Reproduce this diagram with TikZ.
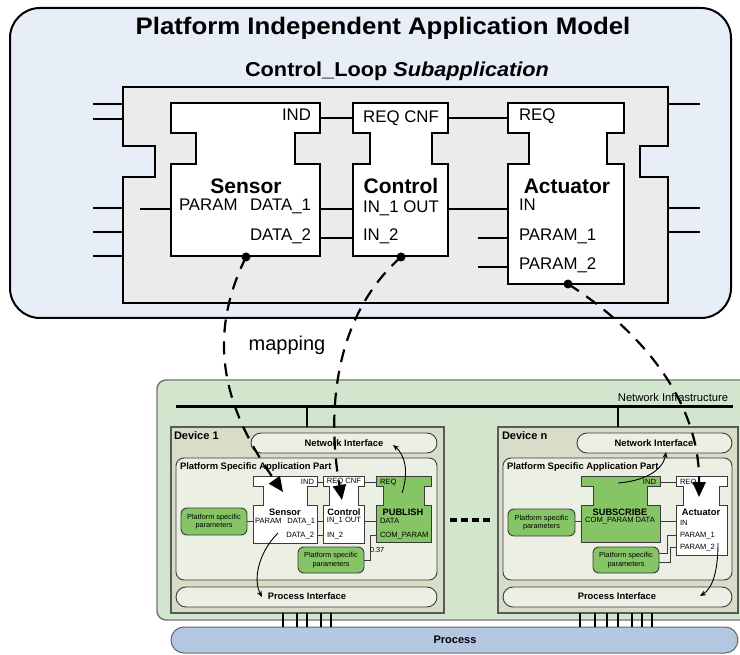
\documentclass[tikz,border=0pt]{standalone}
\usepackage{fontspec}
\setmainfont{Liberation Sans}
\newfontfamily\widesans[FakeStretch=1.08]{Liberation Sans}
\usetikzlibrary{arrows.meta}
\definecolor{pimbg}{HTML}{E7EEF7}
\definecolor{subgray}{HTML}{EBEBEB}
\definecolor{netgreen}{HTML}{D1E6CD}
\definecolor{devfill}{HTML}{D7DDC7}
\definecolor{lightbox}{HTML}{ECEFE4}
\definecolor{fbgreen}{HTML}{86C566}
\definecolor{procblue}{HTML}{B4C7E1}
\definecolor{edgegray}{HTML}{3A3A3A}
\newcommand\fbshape[9]{%
  \draw[#1] (#2,#6) -- (#3,#6) -- (#3,#7) -- (#5,#7) -- (#5,#8) -- (#3,#8) -- (#3,#9)
    -- (#2,#9) -- (#2,#8) -- (#4,#8) -- (#4,#7) -- (#2,#7) -- cycle;}
\tikzset{
  fbtop/.style={draw=black, line width=1.6pt, fill=white},
  fbwhite/.style={draw=edgegray, line width=0.9pt, fill=white},
  fbgrn/.style={draw=edgegray, line width=0.9pt, fill=fbgreen},
  wire/.style={line width=1.5pt, black},
  swire/.style={line width=0.8pt, edgegray},
  stub/.style={line width=2pt, black},
  txt/.style={inner sep=0pt, outer sep=0pt},
  ttl/.style={txt, font=\widesans\fontsize{23.9}{28}\selectfont\bfseries},
  subttl/.style={txt, font=\widesans\fontsize{20.1}{24}\selectfont\bfseries},
  bigname/.style={txt, font=\fontsize{21}{25}\selectfont\bfseries},
  bigport/.style={txt, font=\fontsize{16.8}{20}\selectfont},
  smname/.style={txt, font=\fontsize{9.3}{11}\selectfont\bfseries},
  smport/.style={txt, font=\fontsize{7.6}{9}\selectfont},
  boxlbl/.style={txt, font=\fontsize{9.4}{11}\selectfont\bfseries},
  paramtxt/.style={txt, font=\fontsize{7.3}{8.6}\selectfont, align=center},
  parambox/.style={draw=edgegray, line width=0.9pt, fill=fbgreen, rounded corners=6pt},
  roundbox/.style={draw=edgegray, line width=0.9pt, fill=lightbox, rounded corners=10pt},
  devbox/.style={draw=black!65, line width=1.6pt, fill=devfill},
  mapline/.style={line width=2.2pt, dash pattern=on 13pt off 9pt, -{Triangle[length=15pt,width=13pt]}},
  thinarrow/.style={line width=0.9pt, black, -{Stealth[length=6pt,width=5pt]}},
  portdot/.style={circle, fill=black, inner sep=0pt, minimum size=9pt}
}
\begin{document}
\begin{tikzpicture}[x=1pt, y=-1pt]
\useasboundingbox (0,0) rectangle (740,655);
\clip (0,0) rectangle (740,655);
\fill[white] (0,0) rectangle (740,655);

% ---------- Platform independent model ----------
\draw[line width=2pt, fill=pimbg, rounded corners=30pt] (10,8) rectangle (731,318);
\node[ttl] (title) at (383,28) {Platform Independent Application Model};
\node[subttl] (subtitle) at (397,71) {Control\_Loop \textit{Subapplication}};

\draw[line width=2pt, fill=subgray] (123,87) -- (668,87) -- (668,146) -- (640,146) -- (640,177) -- (668,177)
  -- (668,303) -- (123,303) -- (123,177) -- (155,177) -- (155,146) -- (123,146) -- cycle;
\foreach \yy in {104,119,208,232,256} { \draw[stub] (93,\yy) -- (123,\yy); }
\foreach \yy in {104,208,232} { \draw[stub] (668,\yy) -- (700,\yy); }

\fbshape{fbtop}{171}{320}{196}{295}{103}{133}{164}{256}
\fbshape{fbtop}{353}{448}{370}{432}{103}{133}{164}{256}
\fbshape{fbtop}{508}{624}{529}{607}{103}{133}{164}{284}

% Sensor
\node[bigport, anchor=mid east] (sInd) at (311,118) {IND};
\node[bigname] (sName) at (246,186) {Sensor};
\node[bigport, anchor=mid west] (sParam) at (179,208) {PARAM};
\node[bigport, anchor=mid east] (sD1) at (311,208) {DATA\_1};
\node[bigport, anchor=mid east] (sD2) at (311,238) {DATA\_2};
% Control
\node[bigport] (cEv) at (401,118) {REQ CNF};
\node[bigname] (cName) at (401,186) {Control};
\node[bigport] (cIn1) at (401,208) {IN\_1 OUT};
\node[bigport, anchor=mid west] (cIn2) at (363,238) {IN\_2};
% Actuator
\node[bigport, anchor=mid west] (aReq) at (519,118) {REQ};
\node[bigname] (aName) at (567,186) {Actuator};
\node[bigport, anchor=mid west] (aIn) at (519,208) {IN};
\node[bigport, anchor=mid west] (aP1) at (519,238) {PARAM\_1};
\node[bigport, anchor=mid west] (aP2) at (519,267) {PARAM\_2};

\coordinate (sIndP) at (320,118); \coordinate (cReqP) at (353,118);
\coordinate (cCnfP) at (448,118); \coordinate (aReqP) at (508,118);
\coordinate (sD1P) at (320,209); \coordinate (cIn1P) at (353,209);
\coordinate (cOutP) at (448,209); \coordinate (aInP) at (508,209);
\coordinate (sD2P) at (320,238); \coordinate (cIn2P) at (353,238);
\coordinate (sParP) at (171,209); \coordinate (sParE) at (140,209);
\coordinate (aP1P) at (508,238); \coordinate (aP1E) at (478,238);
\coordinate (aP2P) at (508,267); \coordinate (aP2E) at (478,267);
\draw[wire] (sIndP) -- (cReqP);
\draw[wire] (cCnfP) -- (aReqP);
\draw[wire] (sD1P) -- (cIn1P);
\draw[wire] (cOutP) -- (aInP);
\draw[wire] (sD2P) -- (cIn2P);
\draw[wire] (sParE) -- (sParP);
\draw[wire] (aP1E) -- (aP1P);
\draw[wire] (aP2E) -- (aP2P);

\node[portdot] (dotS) at (246,257) {};
\node[portdot] (dotC) at (401,257) {};
\node[portdot] (dotA) at (568,284) {};

\node[txt, font=\fontsize{20}{24}\selectfont] (mapping) at (287,345) {mapping};

% ---------- Network / devices ----------
\draw[draw=black!55, line width=1.4pt, fill=netgreen, rounded corners=9pt] (157,380) rectangle (760,620);
\node[txt, font=\fontsize{11.2}{13}\selectfont] (netinf) at (673,397) {Network Infrastructure};
\coordinate (busL) at (176,407); \coordinate (busR) at (733,407);
\draw[line width=3pt] (busL) -- (busR);

\draw[devbox] (171,427) rectangle (444,613);
\draw[devbox] (498,427) rectangle (738,613);
\coordinate (drop1) at (307,407); \coordinate (drop1b) at (307,427);
\coordinate (dropn) at (618,407); \coordinate (dropnb) at (618,427);
\draw[line width=2.5pt] (drop1) -- (drop1b);
\draw[line width=2.5pt] (dropn) -- (dropnb);

\node[txt, anchor=mid west, font=\fontsize{11}{13}\selectfont\bfseries] (dev1) at (174,437) {Device 1};
\node[txt, anchor=mid west, font=\fontsize{11}{13}\selectfont\bfseries] (devn) at (502,437) {Device n};

% device 1 boxes
\draw[roundbox] (251,433) rectangle (437,453);
\node[boxlbl] (ni1) at (344,443) {Network Interface};
\draw[roundbox, rounded corners=8pt] (176,458) rectangle (437,580);
\node[boxlbl, anchor=mid west] (psap1) at (180,467) {Platform Specific Application Part};
\draw[roundbox] (176,587) rectangle (437,607);
\node[boxlbl] (pi1) at (307,596) {Process Interface};

% device n boxes
\draw[roundbox] (577,433) rectangle (732,453);
\node[boxlbl] (nin) at (654,443) {Network Interface};
\draw[roundbox, rounded corners=8pt] (503,458) rectangle (732,580);
\node[boxlbl, anchor=mid west] (psapn) at (507,467) {Platform Specific Application Part};
\draw[roundbox] (503,587) rectangle (732,607);
\node[boxlbl] (pin) at (617,596) {Process Interface};

% device 1 FBs
\fbshape{fbwhite}{253}{317}{263}{307}{476}{486}{505}{543}
\fbshape{fbwhite}{323}{364}{329}{358}{476}{486}{505}{543}
\fbshape{fbgrn}{376}{431}{383}{424}{476}{486}{505}{542}
\node[smport, anchor=mid east] (s1Ind) at (314,482) {IND};
\node[smname] (s1Name) at (285,512) {Sensor};
\node[smport, anchor=mid west] (s1Par) at (255,521) {PARAM};
\node[smport, anchor=mid east] (s1D1) at (315,521) {DATA\_1};
\node[smport, anchor=mid east] (s1D2) at (314,535) {DATA\_2};
\node[smport] (c1Ev) at (344,482) {REQ CNF};
\node[smname] (c1Name) at (344,512) {Control};
\node[smport] (c1In1) at (344,521) {IN\_1 OUT};
\node[smport, anchor=mid west] (c1In2) at (327,535) {IN\_2};
\node[smport, anchor=mid west] (p1Req) at (380,482) {REQ};
\node[smname] (p1Name) at (403,512) {PUBLISH};
\node[smport, anchor=mid west] (p1Data) at (380,521) {DATA};
\node[smport, anchor=mid west] (p1Com) at (380,535) {COM\_PARAM};

\coordinate (s1IndP) at (317,482); \coordinate (c1ReqP) at (323,482);
\coordinate (c1CnfP) at (364,482); \coordinate (p1ReqP) at (376,482);
\coordinate (s1D1P) at (317,521); \coordinate (c1In1P) at (323,521);
\coordinate (s1D2P) at (317,535); \coordinate (c1In2P) at (323,535);
\coordinate (c1OutP) at (364,521); \coordinate (p1DataP) at (376,521);
\coordinate (p1ComP) at (376,535); \coordinate (s1ParP) at (253,521);
\draw[swire] (s1IndP) -- (c1ReqP);
\draw[swire] (c1CnfP) -- (p1ReqP);
\draw[swire] (s1D1P) -- (c1In1P);
\draw[swire] (s1D2P) -- (c1In2P);
\draw[swire] (c1OutP) -- (p1DataP);

\node[parambox, minimum width=66pt, minimum height=27pt, inner sep=0pt] (pp1a) at (214,521.5) {};
\node[paramtxt] (pp1aT) at (pp1a) {Platform specific\\parameters};
\node[parambox, minimum width=66pt, minimum height=26pt, inner sep=0pt] (pp1b) at (331,560) {};
\node[paramtxt] (pp1bT) at (pp1b) {Platform specific\\parameters};
\draw[swire] (pp1a.east |- s1ParP) -- (s1ParP);
\draw[swire] (pp1b.east) -- (370,560) -- (370,535) -- (p1ComP);
\node[txt, anchor=mid west, font=\fontsize{7.3}{9}\selectfont] (val) at (370,550) {0.37};

% device n FBs
\fbshape{fbgrn}{581}{660}{593}{647}{476}{486}{505}{542}
\fbshape{fbwhite}{676}{727}{683}{719}{476}{486}{505}{555}
\node[smport, anchor=mid east] (subInd) at (656,482) {IND};
\node[smname] (subName) at (620,512) {SUBSCRIBE};
\node[smport] (subPorts) at (620,521) {COM\_PARAM DATA};
\node[smport, anchor=mid west] (anReq) at (680,482) {REQ};
\node[smname] (anName) at (701,512) {Actuator};
\node[smport, anchor=mid west] (anIn) at (680,523) {IN};
\node[smport, anchor=mid west] (anP1) at (680,535) {PARAM\_1};
\node[smport, anchor=mid west] (anP2) at (680,547) {PARAM\_2};

\coordinate (subIndP) at (660,482); \coordinate (anReqP) at (676,482);
\coordinate (subDataP) at (660,521); \coordinate (anInP) at (676,521);
\coordinate (subComP) at (581,521);
\coordinate (anP1P) at (676,535); \coordinate (anP2P) at (676,547);
\draw[swire] (subIndP) -- (anReqP);
\draw[swire] (subDataP) -- (anInP);

\node[parambox, minimum width=67pt, minimum height=27pt, inner sep=0pt] (ppna) at (541.5,522.5) {};
\node[paramtxt] (ppnaT) at (ppna) {Platform specific\\parameters};
\node[parambox, minimum width=66pt, minimum height=26pt, inner sep=0pt] (ppnb) at (626,560) {};
\node[paramtxt] (ppnbT) at (ppnb) {Platform specific\\parameters};
\draw[swire] (ppna.east |- subComP) -- (subComP);
\draw[swire] (659,553) -- (667,553) -- (667,535) -- (anP1P);
\draw[swire] (659,562) -- (670,562) -- (670,547) -- (anP2P);

% separator between devices
\coordinate (sepL) at (450,520); \coordinate (sepR) at (490,520);
\draw[line width=3.5pt, dash pattern=on 7pt off 4pt] (sepL) -- (sepR);

% process bar and links
\draw[draw=black!60, line width=1pt, fill=procblue, rounded corners=13pt] (171,627) rectangle (738,653);
\node[txt, font=\fontsize{11}{13}\selectfont\bfseries] (process) at (455,640) {Process};
\foreach \xx in {283,297,307,321,331} { \draw[line width=1.2pt] (\xx,613) -- (\xx,627); }
\foreach \xx in {580,595,607,618,632,642,652} { \draw[line width=1.2pt] (\xx,613) -- (\xx,627); }

% internal thin arrows
\coordinate (pubIn) at (402,493); \coordinate (ni1Hit) at (393,445);
\draw[thinarrow] (pubIn) .. controls (409,472) and (405,455) .. (ni1Hit);
\coordinate (s1Out) at (278,533); \coordinate (pi1Hit) at (262,597);
\draw[thinarrow] (s1Out) .. controls (258,553) and (253,580) .. (pi1Hit);
\coordinate (subOut) at (618,483); \coordinate (ninHit) at (666,452);
\draw[thinarrow] (subOut) .. controls (645,481) and (663,470) .. (ninHit);
\coordinate (anOut) at (718,543); \coordinate (pinHit) at (700,596);
\draw[thinarrow] (anOut) .. controls (718,570) and (713,588) .. (pinHit);

% mapping arrows
\coordinate (s1Tgt) at (283,492);
\coordinate (c1Tgt) at (342,500);
\coordinate (anTgt) at (699,497);
\draw[mapline] (dotS.center) .. controls (205,340) and (225,410) .. (s1Tgt);
\draw[mapline] (dotC.center) .. controls (330,320) and (328,420) .. (c1Tgt);
\draw[mapline] (dotA.center) .. controls (625,320) and (700,390) .. (anTgt);
\end{tikzpicture}
\end{document}
